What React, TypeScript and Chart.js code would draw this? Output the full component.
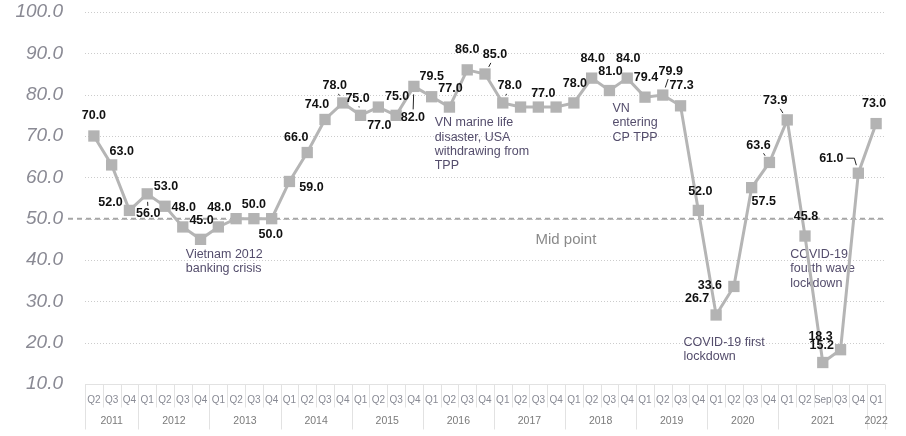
import { useEffect, useRef } from "react"
import Chart from "chart.js/auto"

// quarter categories along the x axis
const quarterLabels = [
  "Q2", "Q3", "Q4",
  "Q1", "Q2", "Q3", "Q4",
  "Q1", "Q2", "Q3", "Q4",
  "Q1", "Q2", "Q3", "Q4",
  "Q1", "Q2", "Q3", "Q4",
  "Q1", "Q2", "Q3", "Q4",
  "Q1", "Q2", "Q3", "Q4",
  "Q1", "Q2", "Q3", "Q4",
  "Q1", "Q2", "Q3", "Q4",
  "Q1", "Q2", "Q3", "Q4",
  "Q1", "Q2", "Sep", "Q3", "Q4",
  "Q1",
]

const yearLabels = ["2011", "2012", "2013", "2014", "2015", "2016", "2017", "2018", "2019", "2020", "2021", "2022"]
const yearSpans = [3, 4, 4, 4, 4, 4, 4, 4, 4, 4, 5, 1]

const indexValues = [
  70, 63, 52,
  56, 53, 48, 45,
  48, 50, 50, 50,
  59, 66, 74, 78,
  75, 77, 75, 82,
  79.5, 77, 86, 85,
  78, 77, 77, 77,
  78, 84, 81, 84,
  79.4, 79.9, 77.3, 52,
  26.7, 33.6, 57.5, 63.6,
  73.9, 45.8, 15.2, 18.3, 61,
  73,
]

const yTicks = [10, 20, 30, 40, 50, 60, 70, 80, 90, 100]
const midValue = 50

// label offset from the marker in px: [dx, dy, leader line?]
const labelPlacement: ([number, number, (boolean | "elbow")?] | null)[] = [
  [0, -20], [10, -13], [-19, -8],
  [1, 20, true], [1, -20], [1, -19], [1, -19],
  [1, -19], null, [0, -14], [-1, 16],
  [22, 6], [-11, -15], [-8, -15], [-8, -17, true],
  [-3, -17, true], [1, 18], [1, -19], [-1, 31, true],
  [0, -20], [1, -19], [0, -20], [10, -19, true],
  [7, -17, true], null, [5, -14], null,
  [1, -19], [1, -20], [1, -19], [1, -20],
  [1, -20], [8, -24, true], [1, -20], [2, -19],
  [-19, -16], [-24, -1], [12, 14], [-11, -17, true],
  [-12, -19, true], [1, -19], [-1, -17], [-20, -13], [-27, -15, "elbow"],
  [-2, -20],
]

// event notes anchored to a category index and a value
const notes = [
  { idx: 5, value: 41.3, lines: ["Vietnam 2012", "banking crisis"] },
  { idx: 19, value: 73.2, lines: ["VN marine life", "disaster, USA", "withdrawing from", "TPP"] },
  { idx: 29, value: 76.6, lines: ["VN", "entering", "CP TPP"] },
  { idx: 33, value: 20.0, lines: ["COVID-19 first", "lockdown"] },
  { idx: 39, value: 41.3, lines: ["COVID-19", "fourth wave", "lockdown"] },
]

const FONT = "'Liberation Sans', Arial, sans-serif"

const decorPlugin = {
  id: "decor",
  beforeDatasetsDraw(chart: any) {
    const { ctx, chartArea, scales } = chart
    const x = scales.x
    const y = scales.y
    const line = (x1: number, y1: number, x2: number, y2: number) => {
      ctx.beginPath()
      ctx.moveTo(x1, y1)
      ctx.lineTo(x2, y2)
      ctx.stroke()
    }
    ctx.save()

    // dotted grid
    ctx.strokeStyle = "#cccccc"
    ctx.lineWidth = 1
    ctx.setLineDash([1, 2])
    yTicks.forEach((v) => {
      if (v === yTicks[0]) return
      const py = Math.round(y.getPixelForValue(v)) + 0.5
      line(chartArea.left, py, chartArea.right, py)
    })

    // mid point dashed line
    const my = y.getPixelForValue(midValue)
    ctx.strokeStyle = "#a6a6a6"
    ctx.lineWidth = 2
    ctx.setLineDash([5, 4])
    line(68, my, chartArea.right, my)
    ctx.setLineDash([])

    ctx.fillStyle = "#8a8a8a"
    ctx.font = `15px ${FONT}`
    ctx.textAlign = "center"
    ctx.textBaseline = "middle"
    const step = x.getPixelForValue(1) - x.getPixelForValue(0)
    ctx.fillText("Mid point", x.getPixelForValue(26) + step * 0.55, y.getPixelForValue(44.9))

    // x axis box
    const top = Math.round(chartArea.bottom) + 0.5
    ctx.strokeStyle = "#e2e2e2"
    ctx.lineWidth = 1
    line(chartArea.left, top, chartArea.right, top)
    const yearStarts = new Set<number>()
    let acc = 0
    yearSpans.forEach((s) => {
      yearStarts.add(acc)
      acc += s
    })
    yearStarts.add(acc)
    for (let k = 0; k <= quarterLabels.length; k++) {
      const px = Math.round(
        k < quarterLabels.length ? x.getPixelForValue(k) - step / 2 : x.getPixelForValue(k - 1) + step / 2
      ) + 0.5
      line(px, top, px, yearStarts.has(k) ? top + 45 : top + 23)
    }

    // year labels
    ctx.fillStyle = "#7a7a7a"
    ctx.font = `10.5px ${FONT}`
    acc = 0
    yearSpans.forEach((s, i) => {
      const cx = (x.getPixelForValue(acc) + x.getPixelForValue(acc + s - 1)) / 2
      ctx.fillText(yearLabels[i], cx, top + 36.5)
      acc += s
    })

    // event notes
    ctx.fillStyle = "#544d6c"
    ctx.font = `12.5px ${FONT}`
    ctx.textAlign = "left"
    notes.forEach((n) => {
      const nx = x.getPixelForValue(n.idx) + 3
      const ny = y.getPixelForValue(n.value)
      n.lines.forEach((t, j) => ctx.fillText(t, nx, ny + j * 14.3))
    })
    ctx.restore()
  },
  afterDatasetsDraw(chart: any) {
    const { ctx } = chart
    const meta = chart.getDatasetMeta(0)
    ctx.save()
    ctx.font = `bold 12.5px ${FONT}`
    ctx.fillStyle = "#111111"
    ctx.strokeStyle = "#222222"
    ctx.lineWidth = 1
    ctx.textAlign = "center"
    ctx.textBaseline = "middle"
    indexValues.forEach((v, i) => {
      const p = labelPlacement[i]
      if (!p) return
      const pt = meta.data[i]
      const lx = pt.x + p[0]
      const ly = pt.y + p[1]
      if (p[2] === "elbow") {
        ctx.beginPath()
        ctx.moveTo(lx + 15, ly)
        ctx.lineTo(pt.x - 4, ly)
        ctx.lineTo(pt.x - 2, pt.y - 8)
        ctx.stroke()
      } else if (p[2]) {
        const len = Math.hypot(p[0], p[1])
        const ux = p[0] / len
        const uy = p[1] / len
        const t = Math.min(Math.abs(ux) > 0.01 ? 13 / Math.abs(ux) : 99, Math.abs(uy) > 0.01 ? 7 / Math.abs(uy) : 99) + 1
        ctx.beginPath()
        ctx.moveTo(pt.x + ux * 8, pt.y + uy * 8)
        ctx.lineTo(lx - ux * t, ly - uy * t)
        ctx.stroke()
      }
      ctx.fillText(v.toFixed(1), lx, ly)
    })
    ctx.restore()
  },
}

export default function App() {
  const canvasRef = useRef<HTMLCanvasElement>(null)
  const chartRef = useRef<Chart | null>(null)

  useEffect(() => {
    if (!canvasRef.current) return
    if (chartRef.current) chartRef.current.destroy()

    chartRef.current = new Chart(canvasRef.current, {
      type: "line",
      data: {
        labels: quarterLabels,
        datasets: [
          {
            data: indexValues,
            borderColor: "#b5b5b5",
            borderWidth: 3,
            backgroundColor: "#b3b3b3",
            pointStyle: "rect",
            pointRadius: 8,
            pointBorderWidth: 0,
            pointBackgroundColor: "#b3b3b3",
            tension: 0,
          },
        ],
      },
      options: {
        responsive: true,
        maintainAspectRatio: false,
        animation: false,
        layout: { autoPadding: false, padding: { top: 12, right: 21, left: 0, bottom: 0 } },
        plugins: {
          legend: { display: false },
          tooltip: { enabled: false },
        },
        scales: {
          x: {
            type: "category",
            offset: true,
            grid: { display: false, drawTicks: false },
            border: { display: false },
            ticks: {
              autoSkip: false,
              maxRotation: 0,
              minRotation: 0,
              padding: 10,
              color: "#888a94",
              font: { size: 10, family: FONT },
            },
            afterFit: (scale: any) => {
              scale.height = 52
            },
          },
          y: {
            min: 10,
            max: 100,
            grid: { display: false, drawTicks: false },
            border: { display: false },
            ticks: {
              stepSize: 10,
              padding: 22,
              color: "#8a8a94",
              font: { size: 19, style: "italic", family: FONT },
              callback: (v: any) => Number(v).toFixed(1),
            },
            afterFit: (scale: any) => {
              scale.width = 85
              scale.paddingTop = 0
              scale.paddingBottom = 0
            },
          },
        },
      },
      plugins: [decorPlugin],
    })

    return () => {
      if (chartRef.current) {
        chartRef.current.destroy()
        chartRef.current = null
      }
    }
  }, [])

  return (
    <div style={{ position: "fixed", left: 0, top: 0, width: 906, height: 436, background: "#fff" }}>
      <canvas ref={canvasRef}></canvas>
    </div>
  )
}
